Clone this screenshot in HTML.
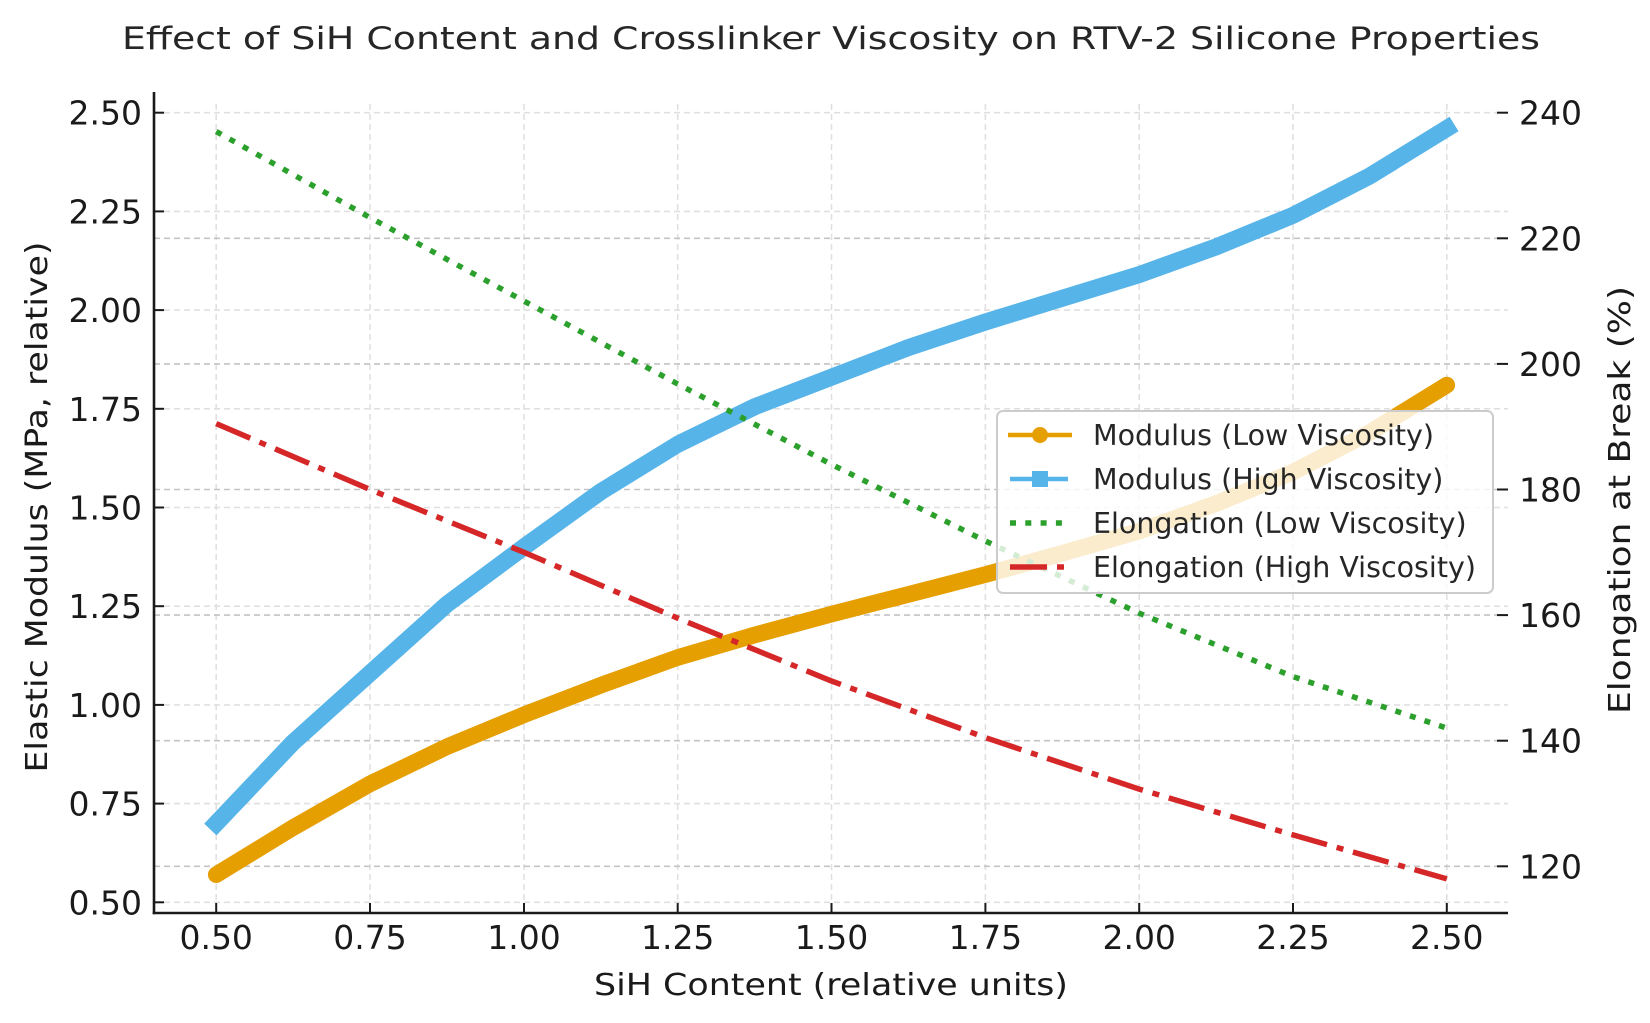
<!DOCTYPE html>
<html><head><meta charset="utf-8"><style>
html,body{margin:0;padding:0;background:#fff;}
svg{display:block;font-family:"DejaVu Sans","Liberation Sans",sans-serif;}
</style></head><body>
<svg width="1650" height="1023" viewBox="0 0 1650 1023" xmlns="http://www.w3.org/2000/svg">
<rect width="1650" height="1023" fill="#fff"/>
<text x="831" y="49" text-anchor="middle" font-size="31" fill="#262626" textLength="1418" lengthAdjust="spacingAndGlyphs">Effect of SiH Content and Crosslinker Viscosity on RTV-2 Silicone Properties</text>
<!-- grid -->
<g stroke="#e0e0e0" stroke-width="1.6" stroke-dasharray="6 4">
<line x1="216.2" x2="216.2" y1="104" y2="913"/><line x1="370" x2="370" y1="104" y2="913"/><line x1="524" x2="524" y1="104" y2="913"/><line x1="677.7" x2="677.7" y1="104" y2="913"/><line x1="831.5" x2="831.5" y1="104" y2="913"/><line x1="985.4" x2="985.4" y1="104" y2="913"/><line x1="1139.2" x2="1139.2" y1="104" y2="913"/><line x1="1293" x2="1293" y1="104" y2="913"/><line x1="1446.8" x2="1446.8" y1="104" y2="913"/>
<line x1="154" x2="1508" y1="112.7" y2="112.7"/><line x1="154" x2="1508" y1="211.4" y2="211.4"/><line x1="154" x2="1508" y1="310.1" y2="310.1"/><line x1="154" x2="1508" y1="408.8" y2="408.8"/><line x1="154" x2="1508" y1="507.5" y2="507.5"/><line x1="154" x2="1508" y1="606.2" y2="606.2"/><line x1="154" x2="1508" y1="704.9" y2="704.9"/><line x1="154" x2="1508" y1="803.6" y2="803.6"/><line x1="154" x2="1508" y1="902.3" y2="902.3"/>
</g>
<g stroke="#c4c4c4" stroke-width="1.6" stroke-dasharray="6 4">
<line x1="154" x2="1508" y1="238.3" y2="238.3"/><line x1="154" x2="1508" y1="363.9" y2="363.9"/><line x1="154" x2="1508" y1="489.5" y2="489.5"/><line x1="154" x2="1508" y1="615.1" y2="615.1"/><line x1="154" x2="1508" y1="740.7" y2="740.7"/><line x1="154" x2="1508" y1="866.3" y2="866.3"/>
</g>
<!-- series -->
<polyline fill="none" stroke="#E69F00" stroke-width="16.6" stroke-linecap="round" stroke-linejoin="round" points="216.2,874.7 293.1,827.6 370,783.9 447,746.7 524,714.8 600.8,685.2 677.7,657.5 754.6,635 831.5,614.1 908.4,594.4 985.4,574.6 1062.3,553.3 1139.2,531.2 1216.1,503.6 1293,472 1369.9,432.5 1446.8,385.1"/>
<polyline fill="none" stroke="#56B4E9" stroke-width="17" stroke-linecap="square" stroke-linejoin="round" points="216.2,823.3 293.1,742.4 370,673.3 447,604.2 524,547 600.8,491.7 677.7,444.3 754.6,406.8 831.5,377.2 908.4,347.6 985.4,322 1062.3,298.3 1139.2,274.6 1216.1,246.9 1293,215.3 1369.9,175.9 1446.8,128.5"/>
<polyline fill="none" stroke="#2ca02c" stroke-width="5.5" stroke-dasharray="6 9.3" points="216.2,131.5 370,217.6 524,301.1 677.7,384 831.5,464.4 985.4,541 1139.2,613.2 1293,676.6 1446.8,728.1"/>
<polyline fill="none" stroke="#d62728" stroke-width="5.5" stroke-dasharray="37 10 7 10" points="216.2,423.6 370,489.5 524,552.3 677.7,618.2 831.5,681 985.4,737.6 1139.2,789.1 1293,834.9 1446.8,878.9"/>
<!-- axes -->
<g stroke="#1a1a1a">
<line x1="154" x2="154" y1="92" y2="914.3" stroke-width="2.6"/>
<line x1="152.7" x2="1508" y1="913" y2="913" stroke-width="2.6"/>
<g stroke-width="2">
<line x1="216.2" x2="216.2" y1="913" y2="903"/><line x1="370" x2="370" y1="913" y2="903"/><line x1="524" x2="524" y1="913" y2="903"/><line x1="677.7" x2="677.7" y1="913" y2="903"/><line x1="831.5" x2="831.5" y1="913" y2="903"/><line x1="985.4" x2="985.4" y1="913" y2="903"/><line x1="1139.2" x2="1139.2" y1="913" y2="903"/><line x1="1293" x2="1293" y1="913" y2="903"/><line x1="1446.8" x2="1446.8" y1="913" y2="903"/>
<line x1="154" x2="164" y1="112.7" y2="112.7"/><line x1="154" x2="164" y1="211.4" y2="211.4"/><line x1="154" x2="164" y1="310.1" y2="310.1"/><line x1="154" x2="164" y1="408.8" y2="408.8"/><line x1="154" x2="164" y1="507.5" y2="507.5"/><line x1="154" x2="164" y1="606.2" y2="606.2"/><line x1="154" x2="164" y1="704.9" y2="704.9"/><line x1="154" x2="164" y1="803.6" y2="803.6"/><line x1="154" x2="164" y1="902.3" y2="902.3"/>
<line x1="1497" x2="1508" y1="112.7" y2="112.7"/><line x1="1497" x2="1508" y1="238.3" y2="238.3"/><line x1="1497" x2="1508" y1="363.9" y2="363.9"/><line x1="1497" x2="1508" y1="489.5" y2="489.5"/><line x1="1497" x2="1508" y1="615.1" y2="615.1"/><line x1="1497" x2="1508" y1="740.7" y2="740.7"/><line x1="1497" x2="1508" y1="866.3" y2="866.3"/>
</g></g>
<g font-size="33" fill="#1a1a1a" text-anchor="middle">
<text x="216.2" y="949">0.50</text><text x="370" y="949">0.75</text><text x="524" y="949">1.00</text><text x="677.7" y="949">1.25</text><text x="831.5" y="949">1.50</text><text x="985.4" y="949">1.75</text><text x="1139.2" y="949">2.00</text><text x="1293" y="949">2.25</text><text x="1446.8" y="949">2.50</text>
</g>
<g font-size="33" fill="#1a1a1a" text-anchor="end">
<text x="142" y="124.7">2.50</text><text x="142" y="223.4">2.25</text><text x="142" y="322.1">2.00</text><text x="142" y="420.8">1.75</text><text x="142" y="519.5">1.50</text><text x="142" y="618.2">1.25</text><text x="142" y="716.9">1.00</text><text x="142" y="815.6">0.75</text><text x="142" y="914.3">0.50</text>
</g>
<g font-size="33" fill="#1a1a1a">
<text x="1519" y="124.7">240</text><text x="1519" y="250.3">220</text><text x="1519" y="375.9">200</text><text x="1519" y="501.5">180</text><text x="1519" y="627.1">160</text><text x="1519" y="752.7">140</text><text x="1519" y="878.3">120</text>
</g>
<text x="831" y="995" text-anchor="middle" font-size="30" fill="#1a1a1a" textLength="474" lengthAdjust="spacingAndGlyphs">SiH Content (relative units)</text>
<text transform="translate(47,507) rotate(-90)" text-anchor="middle" font-size="30" fill="#1a1a1a" textLength="531" lengthAdjust="spacingAndGlyphs">Elastic Modulus (MPa, relative)</text>
<text transform="translate(1630,500) rotate(-90)" text-anchor="middle" font-size="30" fill="#1a1a1a" textLength="428" lengthAdjust="spacingAndGlyphs">Elongation at Break (%)</text>
<!-- legend -->
<rect x="997" y="411" width="496" height="182" rx="6" fill="#fff" fill-opacity="0.8" stroke="#cccccc" stroke-width="2"/>
<line x1="1008" y1="435" x2="1072" y2="435" stroke="#E69F00" stroke-width="4.5"/><circle cx="1040" cy="435" r="8" fill="#E69F00"/>
<line x1="1010" y1="479" x2="1068" y2="479" stroke="#56B4E9" stroke-width="4.5"/><rect x="1032" y="471" width="16" height="16" fill="#56B4E9"/>
<line x1="1010" y1="523" x2="1070" y2="523" stroke="#2ca02c" stroke-width="5.5" stroke-dasharray="6 9.3"/>
<line x1="1010" y1="567" x2="1070" y2="567" stroke="#d62728" stroke-width="5.5" stroke-dasharray="37 10 7 10"/>
<g font-size="28.5" fill="#262626">
<text x="1093" y="445">Modulus (Low Viscosity)</text>
<text x="1093" y="489">Modulus (High Viscosity)</text>
<text x="1093" y="533">Elongation (Low Viscosity)</text>
<text x="1093" y="577">Elongation (High Viscosity)</text>
</g>
</svg>
</body></html>
